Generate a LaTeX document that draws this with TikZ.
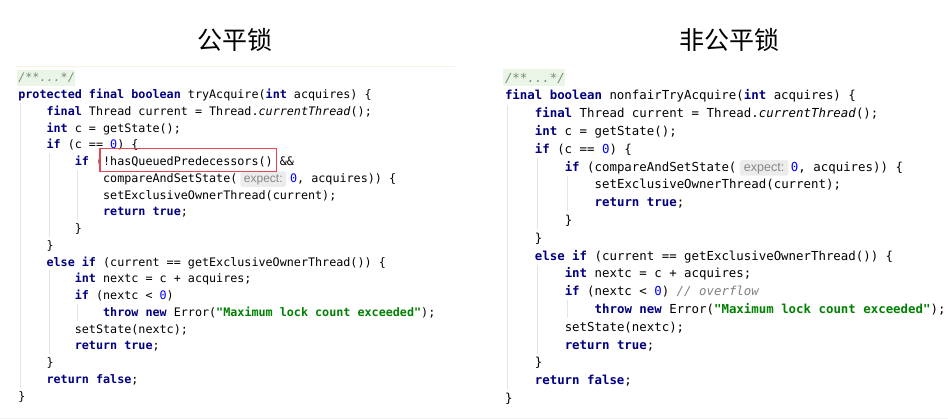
\documentclass[tikz,border=0pt]{standalone}
\usepackage{fontspec}
\setmonofont{DejaVu Sans Mono}[BoldFont=DejaVu Sans Mono Bold, ItalicFont=DejaVu Sans Mono Oblique, BoldItalicFont=DejaVu Sans Mono Bold Oblique]
\newfontfamily\cjk{Noto Sans CJK SC}
\newfontfamily\hintfamily{Liberation Sans}

\definecolor{kwblue}{RGB}{0,0,128}
\definecolor{numblue}{RGB}{0,0,255}
\definecolor{strgreen}{RGB}{0,128,0}
\definecolor{cmtgray}{RGB}{128,128,128}
\definecolor{docgreen}{RGB}{112,140,112}
\definecolor{docbg}{RGB}{234,245,231}
\definecolor{hintbg}{RGB}{236,236,236}
\definecolor{hintgray}{RGB}{135,135,135}
\definecolor{markred}{RGB}{226,72,82}
\definecolor{guidegray}{RGB}{228,228,228}
\definecolor{faintline}{RGB}{246,242,228}

\newcommand\kw[1]{\textcolor{kwblue}{\bfseries #1}}
\newcommand\numlit[1]{\textcolor{numblue}{#1}}
\newcommand\strlit[1]{\textcolor{strgreen}{\bfseries #1}}
\newcommand\cmt[1]{\textcolor{cmtgray}{\itshape #1}}
\newcommand\doccmt[1]{\textcolor{docgreen}{\itshape #1}}

\tikzset{
  code/.style={anchor=base west, inner sep=0pt, outer sep=0pt},
  hint/.style={anchor=base west, fill=hintbg, text=hintgray, rounded corners=2.5pt,
    inner xsep=3.5pt, inner ysep=2pt, text height=9pt, text depth=2.5pt, outer sep=0pt},
  guide/.style={draw=guidegray, line width=0.7pt},
  markbox/.style={draw=markred, line width=1.1pt},
  title/.style={font=\cjk\fontsize{25}{28}\selectfont}
}

\begin{document}
\begin{tikzpicture}[x=1pt,y=-1pt]
\useasboundingbox (0,0) rectangle (948,419);
\fill[white] (0,0) rectangle (948,419);

\node[title] (tl) at (234.5,40) {公平锁};
\node[title] (tr) at (729,40) {非公平锁};

\draw[faintline, line width=1pt] (15,67) -- (455,67);
\draw[gray!12, line width=0.8pt] (0,418.5) -- (948,418.5);

% fair version
\begin{scope}[shift={(18.3pt,-82pt)}, x=7.07pt, y=-16.74pt,
  every node/.append style={font=\fontsize{11.74}{14}\selectfont\ttfamily}]
\fill[docbg] (-0.23,-0.72) rectangle (8.02,0.24);
\draw[guide] (0.34,1.26) -- (0.34,18.26);
\draw[guide] (4.34,4.26) -- (4.34,9.26);
\draw[guide] (4.34,11.26) -- (4.34,16.26);
\draw[guide] (8.34,5.26) -- (8.34,8.26);
\draw[guide] (8.34,13.26) -- (8.34,14.26);

\node[code] (l0) at (0,0) {\doccmt{/**...*/}};
\node[code] (l1) at (0,1) {\kw{protected final boolean} tryAcquire(\kw{int} acquires) \{};
\node[code] (l2) at (4,2) {\kw{final} Thread current = Thread.\textit{currentThread}();};
\node[code] (l3) at (4,3) {\kw{int} c = getState();};
\node[code] (l4) at (4,4) {\kw{if} (c == \numlit{0}) \{};
\node[code] (l5) at (8,5) {\kw{if} (!hasQueuedPredecessors() \&\&};
\node[code] (l6) at (12,6) {compareAndSetState(};
\node[hint, font=\hintfamily\fontsize{12}{14}\selectfont] (l6h) at ([xshift=3pt]l6.base east) {expect:};
\node[code] (l6b) at ([xshift=4pt]l6h.base east) {\numlit{0}, acquires)) \{};
\node[code] (l7) at (12,7) {setExclusiveOwnerThread(current);};
\node[code] (l8) at (12,8) {\kw{return true};};
\node[code] (l9) at (8,9) {\}};
\node[code] (l10) at (4,10) {\}};
\node[code] (l11) at (4,11) {\kw{else if} (current == getExclusiveOwnerThread()) \{};
\node[code] (l12) at (8,12) {\kw{int} nextc = c + acquires;};
\node[code] (l13) at (8,13) {\kw{if} (nextc < \numlit{0})};
\node[code] (l14) at (12,14) {\kw{throw new} Error(\strlit{"Maximum lock count exceeded"});};
\node[code] (l15) at (8,15) {setState(nextc);};
\node[code] (l16) at (8,16) {\kw{return true};};
\node[code] (l17) at (4,17) {\}};
\node[code] (l18) at (4,18) {\kw{return false};};
\node[code] (l19) at (0,19) {\}};

\draw[markbox] (11.56,3.97) rectangle (36.55,5.36);
\end{scope}

% nonfair version
\begin{scope}[shift={(505pt,-82.2pt)}, x=7.47pt, y=-17.8pt,
  every node/.append style={font=\fontsize{12.4}{15}\selectfont\ttfamily}]
\fill[docbg] (-0.27,-0.75) rectangle (8.08,0.22);
\draw[guide] (0.34,1.26) -- (0.34,17.26);
\draw[guide] (4.34,4.26) -- (4.34,8.26);
\draw[guide] (4.34,10.26) -- (4.34,15.26);
\draw[guide] (8.34,5.26) -- (8.34,7.26);
\draw[guide] (8.34,12.26) -- (8.34,13.26);

\node[code] (r0) at (0,0) {\doccmt{/**...*/}};
\node[code] (r1) at (0,1) {\kw{final boolean} nonfairTryAcquire(\kw{int} acquires) \{};
\node[code] (r2) at (4,2) {\kw{final} Thread current = Thread.\textit{currentThread}();};
\node[code] (r3) at (4,3) {\kw{int} c = getState();};
\node[code] (r4) at (4,4) {\kw{if} (c == \numlit{0}) \{};
\node[code] (r5) at (8,5) {\kw{if} (compareAndSetState(};
\node[hint, font=\hintfamily\fontsize{12.6}{15}\selectfont, inner xsep=4pt] (r5h) at ([xshift=3.4pt]r5.base east) {expect:};
\node[code] (r5b) at ([xshift=2.5pt]r5h.base east) {\numlit{0}, acquires)) \{};
\node[code] (r6) at (12,6) {setExclusiveOwnerThread(current);};
\node[code] (r7) at (12,7) {\kw{return true};};
\node[code] (r8) at (8,8) {\}};
\node[code] (r9) at (4,9) {\}};
\node[code] (r10) at (4,10) {\kw{else if} (current == getExclusiveOwnerThread()) \{};
\node[code] (r11) at (8,11) {\kw{int} nextc = c + acquires;};
\node[code] (r12) at (8,12) {\kw{if} (nextc < \numlit{0}) \cmt{// overflow}};
\node[code] (r13) at (12,13) {\kw{throw new} Error(\strlit{"Maximum lock count exceeded"});};
\node[code] (r14) at (8,14) {setState(nextc);};
\node[code] (r15) at (8,15) {\kw{return true};};
\node[code] (r16) at (4,16) {\}};
\node[code] (r17) at (4,17) {\kw{return false};};
\node[code] (r18) at (0,18) {\}};
\end{scope}

\end{tikzpicture}
\end{document}
